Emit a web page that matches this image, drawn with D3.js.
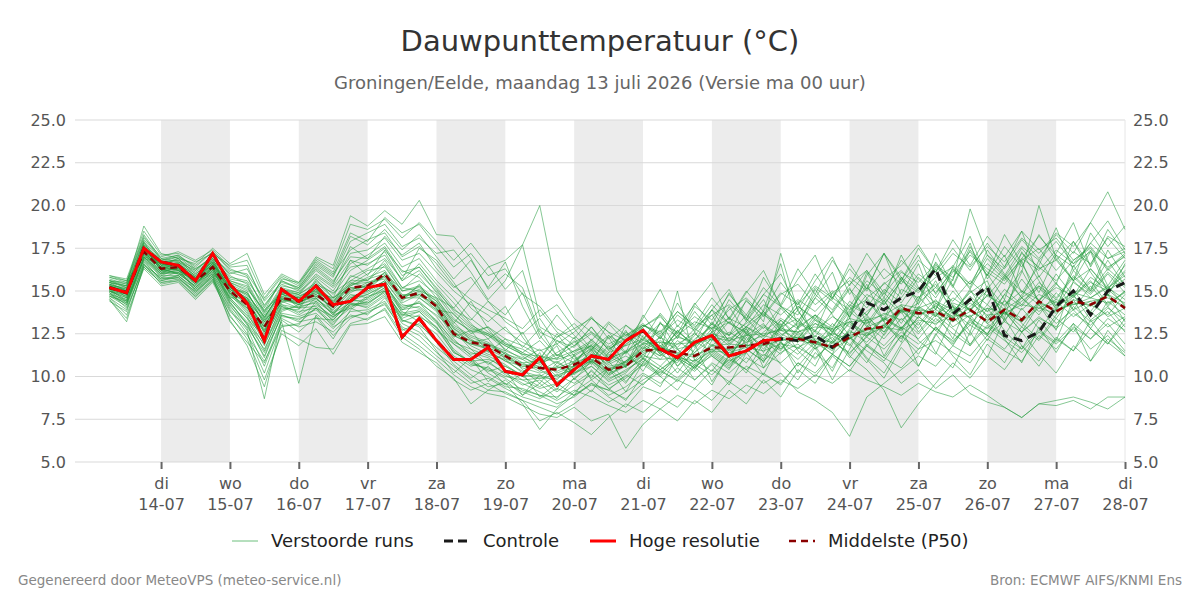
<!DOCTYPE html>
<html>
<head>
<meta charset="utf-8">
<script src="https://cdn.jsdelivr.net/npm/d3@7"></script>
<style>
  body { margin: 0; background: #fff; }
  svg { font-family: 'DejaVu Sans', sans-serif; }
</style>
</head>
<body>
<div id="chart"></div>
<script>
// tijdas: 6-uurlijkse stappen vanaf ma 13-07 06:00 UTC
const startTime = Date.UTC(2026, 6, 13, 6)
const stepHours = 6

const dayNames = ['di', 'wo', 'do', 'vr', 'za', 'zo', 'ma', 'di', 'wo', 'do', 'vr', 'za', 'zo', 'ma', 'di']
const dayDates = ['14-07', '15-07', '16-07', '17-07', '18-07', '19-07', '20-07', '21-07', '22-07', '23-07', '24-07', '25-07', '26-07', '27-07', '28-07']
const shadedDays = ['14-07', '16-07', '18-07', '20-07', '22-07', '24-07', '26-07']
const yTicks = [5, 7.5, 10, 12.5, 15, 17.5, 20, 22.5, 25]

const hires = [15.2, 14.9, 17.5, 16.7, 16.5, 15.6, 17.2, 15.4, 14.3, 12.1, 15.1, 14.4, 15.3, 14.2, 14.4, 15.2, 15.4, 12.3, 13.4, 12.1,
  11.0, 11.0, 11.7, 10.3, 10.1, 11.1, 9.5, 10.4, 11.2, 11.0, 12.1, 12.7, 11.6, 11.1, 12.0, 12.4, 11.2, 11.5, 12.1, 12.2]

const control = [15.2, 14.9, 17.5, 16.7, 16.5, 15.6, 17.2, 15.4, 14.3, 12.1, 15.1, 14.4, 15.3, 14.2, 14.4, 15.2, 15.4, 12.3, 13.4, 12.1,
  11.0, 11.0, 11.7, 10.3, 10.1, 11.1, 9.5, 10.4, 11.2, 11.0, 12.1, 12.7, 11.6, 11.1, 12.0, 12.4, 11.2, 11.5, 12.1, 12.2,
  12.1, 12.4, 11.7, 12.5, 14.3, 13.9, 14.6, 15.0, 16.3, 13.65, 14.5, 15.25, 12.4, 12.1, 12.6, 14.1, 15.0, 13.6, 15.0, 15.5]

const p50 = [15.2, 14.9, 17.3, 16.3, 16.4, 15.6, 16.4, 15.0, 14.2, 12.9, 14.6, 14.4, 14.8, 14.1, 15.2, 15.3, 16.0, 14.6, 14.9, 14.1,
  12.5, 12.0, 11.8, 11.2, 10.6, 10.5, 10.4, 10.7, 11.1, 10.4, 10.6, 11.5, 11.6, 11.4, 11.2, 11.7, 11.7, 11.8, 11.9, 12.2,
  12.2, 12.0, 11.7, 12.3, 12.8, 12.9, 14.0, 13.7, 13.8, 13.3, 13.9, 13.2, 13.9, 13.3, 14.4, 13.8, 14.4, 14.2, 14.7, 14.0]

const members = [
  [15.0,14.6,17.8,16.5,16.9,15.8,16.6,15.3,14.8,13.5,14.9,14.0,15.6,14.8,16.2,16.8,17.5,15.9,16.4,15.1,13.8,12.9,12.4,11.6,11.0,10.4,9.8,10.9,11.7,10.8,11.9,12.6,11.3,10.8,12.2,12.9,12.4,13.1,13.8,12.7,12.2,13.4,12.6,13.9,14.5,13.2,15.1,14.6,15.4,13.8,14.9,15.6,13.2,14.8,15.9,14.1,16.2,15.1,16.8,15.3],
  [15.4,15.1,17.1,16.0,16.2,15.2,16.1,14.6,13.5,11.8,14.1,13.6,14.2,13.5,14.1,14.4,15.1,13.8,13.2,12.5,11.2,10.6,10.9,10.1,9.5,9.8,9.1,9.9,10.6,9.7,10.2,11.3,11.8,10.6,11.4,12.2,11.1,12.5,11.8,12.9,13.4,12.1,11.5,12.8,13.6,12.4,13.9,12.8,14.2,12.9,13.6,12.4,14.5,13.1,12.2,13.6,14.8,13.3,14.1,12.9],
  [14.8,14.2,16.9,16.6,16.8,16.1,16.9,15.8,15.6,14.2,15.4,15.0,16.2,15.4,17.6,16.9,18.2,17.1,17.8,16.3,15.2,15.8,14.4,13.6,14.9,12.4,11.2,11.8,12.5,11.6,12.2,12.9,13.5,12.4,13.2,12.8,13.9,14.6,13.5,14.8,15.4,14.2,15.0,14.1,15.6,14.8,16.1,15.5,16.6,15.2,17.4,16.1,15.4,16.8,17.5,16.2,17.3,16.6,18.1,16.9],
  [15.6,15.3,17.6,16.2,16.1,15.4,16.3,14.9,13.9,12.4,14.3,14.7,15.0,13.8,14.6,15.0,15.6,14.2,14.0,13.2,12.1,11.4,11.1,10.4,9.8,9.3,9.6,10.2,10.8,9.9,10.3,11.1,10.4,11.2,10.7,11.6,10.9,11.4,12.2,11.5,12.8,11.6,12.3,11.1,12.4,13.0,12.2,13.5,12.7,11.9,13.2,12.5,13.8,12.6,13.4,12.9,14.1,13.2,13.8,12.6],
  [15.9,15.6,18.3,16.9,17.1,16.4,17.3,16.2,16.0,14.5,15.8,15.3,16.8,16.1,18.4,17.9,19.3,18.4,18.9,17.6,16.4,17.2,15.9,16.3,14.8,14.1,12.8,12.2,13.4,12.6,12.1,13.0,12.5,13.8,12.9,13.6,14.2,13.4,14.8,14.1,13.6,15.2,14.4,13.5,14.8,14.2,15.6,14.9,15.8,16.4,15.1,16.9,15.8,17.2,16.4,15.6,16.8,17.5,16.2,17.1],
  [14.5,13.2,16.5,15.8,15.7,15.0,15.9,14.2,12.8,10.6,13.2,9.6,13.6,12.4,13.4,13.8,14.2,12.8,12.1,11.2,10.4,9.6,9.9,9.3,8.8,8.5,8.2,9.1,9.8,8.9,9.4,10.2,9.6,10.5,9.8,10.8,10.2,11.1,10.5,11.4,11.9,11.0,12.1,11.3,12.6,11.8,12.9,12.2,13.4,12.5,11.8,12.9,12.1,11.4,12.6,11.9,12.8,11.6,12.4,11.2],
  [15.3,15.0,17.4,16.4,16.6,15.9,16.7,15.5,15.1,13.9,14.8,14.6,15.3,14.3,15.9,15.6,16.8,15.2,15.6,14.8,13.4,12.6,12.9,12.2,11.8,11.2,10.8,11.5,12.1,11.4,11.8,12.2,13.1,12.6,13.5,12.8,13.4,12.9,14.2,13.6,14.5,13.8,14.9,15.6,14.6,15.4,16.2,15.1,16.5,15.8,17.1,16.3,15.6,16.9,18.2,17.1,16.4,17.8,19.1,17.4],
  [14.9,14.4,16.8,15.6,15.9,15.1,16.0,14.4,13.0,11.2,13.6,13.3,14.0,13.1,14.2,14.1,14.8,13.4,13.8,12.9,11.6,10.8,10.4,9.9,9.2,8.9,8.4,8.8,9.6,8.8,8.2,9.4,9.0,9.8,9.3,10.4,9.7,10.6,10.1,9.6,10.8,10.2,11.3,10.6,11.8,11.1,10.5,11.6,12.1,11.4,10.8,12.2,11.5,10.9,12.4,11.6,12.9,12.2,13.1,11.9],
  [15.1,14.7,17.2,16.1,16.3,15.7,16.5,15.1,14.4,12.8,14.5,14.2,14.6,13.6,14.8,14.6,15.4,13.9,14.4,13.5,12.2,11.2,10.8,10.2,9.6,9.1,8.6,9.2,8.8,8.3,7.9,8.6,8.1,8.9,8.4,9.2,8.7,9.5,9.0,9.8,9.3,10.1,9.6,10.4,9.8,9.4,8.9,9.6,9.1,8.8,9.5,8.9,8.2,7.6,8.4,8.6,8.8,8.5,8.1,8.8],
  [15.7,15.4,18.8,17.2,16.9,16.6,17.5,16.6,17.2,14.8,16.0,15.5,17.0,16.5,19.4,18.8,19.7,18.9,20.3,18.3,18.2,16.9,15.1,16.0,15.2,12.6,12.1,11.4,12.0,11.3,10.8,11.9,11.2,12.4,11.8,12.6,13.2,12.1,13.0,12.4,13.1,12.6,11.9,13.2,12.5,13.4,12.8,13.9,13.2,14.1,13.4,12.8,13.9,14.6,13.8,14.4,13.5,14.2,13.6,14.8],
  [14.6,13.6,16.3,15.3,15.5,14.5,15.5,13.6,12.2,9.8,12.5,11.8,12.8,11.3,13.0,13.1,13.5,12.0,11.4,10.8,9.8,9.2,9.6,9.0,8.6,8.2,7.8,8.4,9.2,8.5,9.1,9.8,10.4,9.7,10.6,11.2,10.5,11.4,12.2,11.6,12.5,11.8,12.6,13.2,12.4,13.5,12.8,14.1,13.5,14.6,13.9,13.2,14.8,14.1,15.3,14.5,15.8,14.9,16.1,15.2],
  [15.2,14.8,17.6,16.6,16.2,15.5,16.9,14.8,13.7,12.0,14.0,13.9,15.4,14.9,15.6,16.2,16.4,15.0,15.2,14.4,13.0,12.4,12.0,11.3,11.0,11.6,10.6,10.1,10.9,10.3,10.9,11.7,11.2,11.9,12.5,11.8,12.6,12.0,12.9,12.3,13.2,12.7,13.5,12.9,13.8,14.6,13.7,14.3,15.2,14.4,15.6,14.7,15.9,15.0,14.2,15.4,14.6,15.8,15.1,16.2],
  [15.5,15.2,17.9,16.8,17.0,16.2,17.1,15.9,15.4,13.6,15.2,14.9,15.8,15.0,16.6,17.1,17.8,16.4,16.9,15.6,14.6,13.4,12.6,12.0,11.4,10.9,10.2,10.6,11.4,10.7,11.2,10.6,11.8,11.1,12.1,11.4,12.3,11.7,12.6,13.4,12.8,13.6,12.9,14.2,13.6,15.1,14.3,15.8,14.9,16.2,15.4,16.6,15.7,16.9,16.2,17.4,16.6,17.8,16.9,17.3],
  [14.4,13.8,16.6,15.4,15.6,14.7,15.6,13.9,12.5,10.2,13.0,13.0,14.4,13.2,14.0,13.6,14.6,13.1,12.6,11.7,10.9,10.1,9.4,9.6,9.1,8.7,9.3,8.9,9.5,9.2,8.7,9.6,10.3,9.8,10.7,10.1,11.0,10.4,11.3,10.8,11.7,11.1,12.0,11.4,12.3,11.6,12.6,11.9,12.8,12.1,13.0,12.4,13.2,12.6,13.5,12.8,13.7,13.0,14.0,13.3],
  [15.8,15.5,18.1,17.0,17.3,16.8,17.4,16.4,16.5,14.1,15.6,15.2,16.5,15.8,17.9,18.4,18.9,17.6,18.1,17.2,17.4,16.1,14.5,15.6,17.7,13.5,14.2,12.8,11.6,12.4,11.8,12.9,13.6,12.2,14.1,13.3,14.8,13.6,15.2,14.1,13.2,14.8,13.9,15.4,16.2,14.9,16.8,15.7,14.6,16.1,17.3,15.9,17.6,16.4,18.3,16.8,17.9,16.5,18.6,17.2],
  [15.0,14.5,17.0,16.1,16.0,15.3,16.2,14.7,14.0,12.6,14.4,14.5,14.9,14.4,15.3,15.8,16.2,14.8,14.7,14.3,12.8,12.2,11.5,10.9,10.3,10.0,10.6,11.2,11.8,10.4,10.9,12.0,11.5,10.2,11.6,12.8,11.2,12.4,13.1,11.6,12.9,13.6,12.1,13.4,11.8,12.9,14.2,12.6,13.8,12.2,14.6,13.1,12.4,14.0,12.8,13.9,15.1,13.6,14.8,13.2],
  [15.3,14.9,17.3,16.3,16.6,15.6,16.4,15.2,14.6,13.1,14.7,14.2,14.5,13.9,14.9,15.4,15.8,14.4,15.4,14.0,12.6,11.8,11.3,11.0,10.2,11.4,9.4,10.6,12.2,11.1,13.0,12.3,11.4,12.7,11.8,13.2,12.1,12.9,13.7,12.5,12.0,13.1,12.4,11.8,13.3,12.6,14.0,13.4,14.5,13.2,14.1,15.0,13.6,14.4,15.2,14.0,14.8,15.6,14.2,15.0],
  [15.2,15.0,17.5,16.4,16.5,15.8,16.8,15.6,15.2,13.8,15.0,14.8,15.5,14.6,15.4,16.0,16.6,15.2,15.0,14.6,14.0,15.2,16.4,16.8,17.7,20.0,15.0,13.4,12.6,11.9,12.4,13.1,12.2,13.6,12.8,14.2,13.1,12.6,13.8,12.9,14.1,13.3,12.8,14.4,13.6,14.9,13.8,15.2,14.3,13.7,15.0,14.2,15.8,14.6,15.3,14.1,15.5,14.8,16.0,14.9],
  [14.7,14.1,16.7,15.7,15.8,14.9,15.8,14.0,12.7,8.7,13.4,12.9,13.2,12.6,13.6,13.3,14.0,12.5,11.8,11.0,10.1,9.4,9.0,8.8,8.3,7.8,7.6,8.2,7.4,7.8,5.8,7.2,8.1,7.4,8.6,7.9,9.2,8.4,9.8,8.8,10.4,9.6,11.2,10.3,11.8,10.9,12.4,11.3,12.9,11.8,13.4,12.1,13.8,12.6,14.2,13.1,13.9,12.8,14.4,13.6],
  [15.4,15.1,17.7,16.5,16.7,16.0,16.7,15.4,14.9,13.4,15.1,14.8,15.9,15.2,16.4,16.6,17.1,15.6,16.2,14.9,13.6,12.8,12.5,11.8,11.3,10.8,11.4,12.0,12.6,11.6,12.3,13.0,12.4,13.3,12.7,13.9,13.1,14.4,13.6,14.9,14.2,15.3,14.6,15.8,15.0,16.3,15.4,16.8,15.9,17.2,16.4,17.6,16.7,18.1,17.2,18.4,17.6,19.0,20.8,18.6],
  [15.1,14.8,17.4,16.2,16.3,15.5,16.3,14.8,14.1,12.7,14.6,14.3,14.8,14.0,15.0,15.1,15.9,14.5,14.8,13.9,12.4,11.9,11.6,11.1,10.5,10.2,10.5,10.9,11.5,10.6,10.8,11.6,12.3,11.7,12.8,12.1,13.2,12.5,13.6,13.0,14.1,13.4,14.6,13.9,15.2,14.4,15.8,15.0,16.4,15.6,19.8,17.1,16.3,17.6,16.8,17.9,16.6,17.3,16.4,17.0],
  [15.0,14.3,16.9,16.0,16.1,15.2,16.2,14.5,13.4,11.5,13.9,14.1,14.3,13.4,14.5,14.3,15.0,13.6,13.5,12.9,11.4,10.9,10.3,10.6,10.0,9.4,10.1,9.6,10.3,9.5,10.0,10.9,10.2,11.1,10.5,11.5,10.8,11.9,11.2,12.3,11.6,12.7,12.0,13.1,12.3,13.4,12.7,13.9,13.0,14.2,13.4,14.8,13.9,16.1,20.0,16.9,15.6,14.6,15.3,14.1],
  [15.6,15.2,17.3,16.6,16.4,15.7,16.6,15.0,14.3,12.9,14.8,14.5,15.1,14.2,15.5,15.2,16.1,14.7,15.1,14.4,13.2,12.1,11.8,11.4,10.8,10.3,10.9,10.2,11.0,10.1,10.6,11.3,10.6,11.6,10.8,11.9,11.1,10.4,9.6,10.2,9.1,8.6,7.9,6.5,8.8,9.6,10.4,11.2,10.6,11.8,11.2,12.4,11.6,12.9,12.1,13.4,12.6,13.8,12.9,13.5],
  [14.9,14.0,16.4,15.5,15.6,14.6,15.6,13.8,12.9,11.4,13.5,13.4,13.7,12.8,13.8,13.9,14.4,12.9,12.4,11.4,10.6,9.8,9.2,9.1,8.6,7.4,7.9,7.3,6.6,7.6,8.4,7.9,8.8,8.2,9.3,8.6,9.7,9.0,10.2,9.5,10.8,10.0,11.3,10.6,11.9,11.1,12.4,11.6,12.9,12.0,13.3,12.5,13.8,12.9,14.3,13.4,14.7,13.8,15.1,14.2],
  [15.2,14.9,17.1,16.2,16.4,15.4,16.5,14.9,13.8,12.2,14.2,13.7,14.6,13.7,14.7,14.9,15.5,13.7,13.9,13.1,11.9,11.1,10.2,9.6,8.4,6.9,8.1,8.9,9.6,9.2,10.1,9.5,10.6,9.9,11.0,10.3,11.6,10.8,12.1,11.3,12.6,11.8,13.1,12.2,13.5,12.6,13.9,13.0,14.3,13.4,14.7,13.8,15.1,14.2,15.5,14.6,15.9,15.0,16.3,15.4],
  [15.3,15.0,17.2,16.4,16.2,15.6,16.1,15.1,14.5,12.5,14.9,14.6,14.7,14.1,15.0,15.5,15.7,14.6,15.3,14.2,12.9,12.3,11.9,11.5,11.1,10.7,11.3,10.8,11.9,11.2,10.6,11.8,11.0,12.1,11.4,12.6,11.8,12.9,12.2,13.3,12.4,11.6,12.8,11.2,10.4,9.2,7.0,8.4,9.6,10.8,9.9,11.2,10.4,11.8,10.9,12.3,11.5,12.8,11.9,13.1],
  [15.0,14.6,17.0,16.0,16.5,15.5,16.0,15.1,14.4,13.3,14.2,14.0,14.4,13.7,14.6,14.8,15.3,14.1,14.3,13.6,12.7,11.6,11.2,10.7,10.0,10.1,9.7,10.2,10.6,9.8,10.4,11.0,10.4,11.1,10.5,11.4,10.7,11.6,10.9,11.8,11.0,12.0,11.3,12.3,11.5,10.8,9.6,10.4,9.3,10.1,9.0,8.5,8.2,7.6,8.4,8.3,8.6,8.1,8.8,8.8],
  [15.5,15.3,17.8,16.7,16.8,16.3,16.9,15.7,15.5,13.7,15.3,15.1,16.3,15.5,17.2,17.4,18.1,16.8,17.2,16.1,15.0,14.2,13.6,12.7,12.0,11.5,11.9,11.0,11.6,10.8,11.4,12.2,11.5,12.6,11.9,13.1,12.4,13.6,12.8,14.1,13.2,14.6,13.7,15.1,14.0,15.5,14.6,16.0,15.2,16.5,15.4,17.1,15.9,17.5,16.3,16.8,15.6,16.3,15.2,15.9],
  [14.6,13.9,16.5,15.6,15.8,14.8,15.7,14.1,13.1,11.6,13.7,13.5,13.9,13.0,14.3,14.0,14.7,13.3,13.0,12.2,11.1,10.4,10.0,9.4,9.3,8.9,8.8,9.5,10.1,9.3,9.9,10.7,10.0,11.0,10.3,11.3,10.6,11.6,10.9,12.0,11.3,12.4,11.6,12.7,12.0,13.1,12.3,13.5,12.7,13.8,13.0,14.2,13.3,14.6,13.6,14.9,13.9,14.4,13.5,14.0],
  [15.9,15.7,18.5,17.1,17.2,16.7,17.2,16.5,16.8,14.6,15.9,15.4,16.9,16.3,18.9,18.6,19.2,18.1,19.0,17.9,16.8,17.8,16.5,15.1,16.2,12.9,12.3,12.8,13.4,12.6,11.4,13.6,12.2,14.3,12.6,13.9,15.1,13.2,14.8,16.0,13.9,15.6,17.0,14.8,16.2,14.6,17.1,15.2,13.9,16.4,18.2,15.7,17.1,14.9,16.5,18.7,16.2,17.4,15.3,16.8],
  [15.1,14.4,17.3,16.3,16.0,15.3,16.4,14.3,13.2,11.9,13.8,14.2,15.7,14.6,16.8,15.9,17.4,16.2,15.8,14.6,13.1,14.4,12.8,11.5,12.6,10.9,11.8,9.8,10.9,12.3,10.6,12.8,11.4,15.0,10.9,12.3,14.1,12.5,10.8,12.9,14.4,12.1,11.3,13.7,15.4,13.2,12.0,14.5,16.3,14.1,12.6,15.2,13.4,16.8,14.2,12.7,15.6,17.3,14.9,16.1],
  [15.4,15.0,17.6,16.5,16.6,15.9,16.5,15.3,14.7,13.2,14.9,14.7,15.2,14.5,15.8,16.3,16.9,15.7,17.5,16.8,15.5,14.0,13.2,14.1,12.3,11.0,12.5,11.2,9.9,11.4,12.7,11.0,13.2,11.6,10.4,12.1,13.5,11.8,13.9,16.6,12.8,14.6,16.1,13.4,15.9,17.2,14.8,16.6,13.9,15.7,17.8,15.1,16.4,18.5,15.8,17.2,19.0,16.4,18.2,17.6],
  [14.8,14.5,16.8,15.9,16.3,15.0,15.8,13.2,12.0,10.8,13.3,12.6,13.5,12.2,13.9,14.6,15.2,13.3,12.9,11.5,10.2,11.1,9.7,10.4,8.9,10.1,9.2,11.3,9.8,10.5,9.1,10.8,12.4,10.6,11.9,9.7,11.2,12.8,10.5,12.1,10.2,11.7,9.8,11.6,13.4,11.2,12.9,10.6,12.4,14.1,11.8,13.6,12.2,10.8,12.9,11.4,13.1,10.9,12.7,11.5],
  [15.6,15.4,18.0,16.9,16.7,16.2,17.0,16.0,16.3,14.4,15.5,15.2,16.6,15.9,18.2,17.7,18.6,17.4,18.3,17.0,15.7,16.8,15.2,16.7,14.1,12.2,13.6,12.4,11.5,13.1,12.0,13.4,15.1,12.9,14.2,15.5,13.3,14.9,16.2,14.1,15.7,17.1,14.6,16.3,15.1,17.2,15.8,14.2,16.7,15.3,17.6,15.9,18.3,16.6,14.9,17.1,15.6,18.4,16.9,17.5],
  [15.0,14.7,17.2,16.1,16.4,15.5,16.2,14.6,13.6,12.3,14.4,14.0,14.1,13.3,14.4,14.5,15.2,13.9,14.1,13.3,12.0,11.6,10.7,11.4,10.4,9.6,10.8,10.3,11.6,10.1,11.5,10.3,12.0,10.9,12.6,11.2,10.4,12.3,11.0,13.1,11.5,10.6,12.6,11.9,10.8,12.5,13.8,12.1,11.3,13.5,12.4,14.0,12.7,11.6,13.3,12.1,14.5,12.8,11.9,13.4],
  [15.3,15.2,17.5,16.6,16.9,16.0,16.8,15.6,15.3,13.4,15.1,14.9,16.0,15.3,16.8,16.5,17.3,15.6,16.6,15.4,14.3,13.1,12.2,12.9,11.7,12.8,11.2,12.1,10.8,12.4,11.3,12.7,11.5,13.0,12.0,13.9,12.4,14.5,13.2,17.2,13.8,12.6,14.9,13.5,16.1,14.2,15.6,17.1,14.8,16.3,15.2,17.4,16.0,14.6,16.8,15.4,17.9,16.1,14.7,16.6],
  [14.7,14.3,16.6,15.7,15.9,14.9,15.9,13.5,12.4,10.9,12.9,13.1,14.0,12.9,13.5,13.7,14.3,12.7,13.1,12.0,10.7,9.9,10.6,9.5,10.2,8.8,9.6,8.9,10.4,9.3,8.6,10.1,9.4,11.2,9.8,10.7,9.5,11.4,10.1,12.0,10.6,11.8,10.3,12.4,11.1,10.2,11.9,13.2,11.4,10.5,12.6,11.1,13.4,11.8,10.6,12.2,11.5,13.3,12.0,11.2],
  [15.2,14.8,17.7,16.8,16.5,15.6,16.5,15.5,15.0,13.0,14.5,14.3,15.0,14.3,15.3,15.7,16.0,15.1,16.0,15.0,13.9,13.3,14.4,13.2,12.5,13.4,11.9,12.6,13.5,12.2,13.0,12.1,13.7,12.5,14.3,13.0,14.9,13.4,12.3,14.0,12.9,15.1,13.6,12.4,14.6,13.3,15.8,14.4,17.2,15.3,13.8,16.0,14.5,17.3,15.6,13.9,16.5,15.0,17.4,15.8],
  [15.5,15.3,17.9,16.3,16.0,15.8,16.7,15.2,14.9,13.3,15.0,14.4,14.6,13.6,14.0,14.7,15.0,13.5,14.6,13.8,12.3,12.7,11.4,12.2,11.2,10.5,12.1,11.7,12.9,11.5,12.6,11.9,12.7,11.3,12.4,13.6,12.0,13.2,14.5,12.7,13.9,12.3,13.8,15.2,13.1,14.5,12.8,14.0,15.6,13.7,15.1,13.4,14.8,16.2,14.4,15.5,13.9,15.3,14.1,15.0],
  [15.8,15.6,17.0,16.7,17.0,16.5,17.3,16.3,15.9,13.8,15.7,15.5,16.7,16.0,17.4,18.0,18.4,17.0,17.6,16.6,15.3,14.5,13.9,13.4,12.8,13.9,12.6,11.8,12.9,11.7,12.5,11.6,13.1,12.3,13.8,12.6,14.5,13.3,15.8,14.2,16.3,14.8,16.8,15.3,17.2,15.7,16.5,17.7,16.1,17.5,16.2,17.8,16.4,18.0,16.9,18.3,17.2,19.0,17.6,18.8],
  [14.5,13.4,16.4,15.5,15.7,14.7,15.7,13.3,11.8,9.4,12.7,12.2,11.7,11.6,13.1,13.4,13.9,12.3,11.6,10.6,9.9,8.4,9.2,9.8,8.9,9.6,8.7,9.9,9.1,10.5,9.6,11.1,10.0,9.2,10.6,9.5,11.3,10.2,12.0,10.7,9.8,11.4,10.5,12.3,11.0,9.9,11.7,10.6,12.5,11.2,10.1,11.9,10.8,12.6,11.3,10.2,11.8,10.9,12.2,11.4],
  [15.1,14.9,17.2,16.4,16.3,15.4,16.4,14.6,14.6,12.6,14.7,14.5,15.1,14.1,15.4,15.5,15.9,14.6,14.6,13.9,13.7,12.5,12.9,11.9,11.4,12.1,11.0,12.3,10.7,11.8,10.5,12.4,11.3,12.7,11.7,13.1,11.9,12.8,11.4,13.3,12.2,13.6,12.6,14.1,12.9,14.4,13.1,14.7,13.5,15.0,13.8,15.3,14.1,15.7,14.4,16.0,14.7,16.3,15.1,16.5],
  [15.4,14.6,17.6,16.2,16.7,15.7,16.6,15.2,14.5,12.9,14.8,14.6,14.9,14.6,15.2,15.0,15.6,14.3,14.8,14.1,12.8,12.0,12.2,11.0,10.8,10.9,10.0,10.6,10.9,10.0,10.9,11.5,12.1,11.6,11.9,12.2,11.5,12.0,12.4,12.1,12.3,12.0,12.5,12.2,12.9,13.3,13.9,13.6,14.1,13.5,14.3,13.6,13.7,13.2,14.0,13.7,14.5,14.1,14.8,14.3],
  [15.0,14.8,17.4,16.5,16.5,15.6,16.4,15.0,14.2,12.7,14.5,14.4,14.7,14.0,15.1,15.3,16.1,14.6,15.0,14.2,12.6,12.1,11.9,11.3,10.7,10.6,10.3,10.8,11.2,10.5,10.7,11.4,11.7,11.4,11.1,11.8,11.9,11.8,12.0,12.3,12.1,11.9,11.8,12.4,12.7,13.0,13.8,13.9,13.7,13.2,13.8,13.3,14.0,13.4,14.3,13.9,14.2,14.4,14.6,14.1],
  [15.2,15.1,17.3,16.3,16.4,15.5,16.3,14.9,14.0,12.9,14.6,14.5,14.8,14.2,15.2,15.2,15.9,14.7,14.9,14.0,12.4,11.9,11.7,11.2,10.6,10.5,10.5,10.6,11.0,10.4,10.6,11.5,11.6,11.3,11.3,11.6,11.6,11.8,11.8,12.1,12.3,12.1,11.6,12.2,12.8,12.8,14.1,13.6,13.9,13.4,14.0,13.1,13.8,13.2,14.4,13.8,14.3,14.2,14.8,13.9],
  [15.6,15.5,18.2,16.8,17.1,16.3,17.0,16.1,15.8,14.0,15.6,15.1,16.4,15.6,17.0,16.9,17.6,16.1,16.4,15.2,14.0,13.0,12.5,11.9,11.6,11.0,12.3,13.1,12.1,13.2,12.4,13.0,12.6,13.8,13.0,14.6,13.4,15.0,13.8,15.5,14.2,16.0,14.5,16.6,15.1,17.2,15.6,17.5,16.1,18.0,16.5,18.2,17.0,18.5,17.4,18.1,16.8,17.6,16.3,17.2],
  [14.9,14.2,17.0,15.9,15.9,15.1,15.9,14.3,13.1,11.1,13.6,13.2,13.4,13.3,14.4,14.8,15.4,14.0,14.3,13.2,11.5,10.7,10.5,10.0,9.8,9.9,9.9,10.5,11.3,10.9,9.7,10.8,10.1,11.3,10.6,11.8,11.1,12.6,11.6,12.9,12.0,13.3,12.4,13.8,13.0,12.2,13.4,12.5,13.6,12.8,11.9,13.0,12.3,11.6,12.7,12.0,13.1,12.2,13.4,12.7],
  [15.3,14.9,17.5,16.4,16.2,15.6,16.6,15.1,14.6,13.2,14.6,14.2,15.1,13.7,14.3,14.2,15.0,13.2,13.6,12.7,11.9,11.3,11.5,10.9,10.6,10.8,11.1,11.5,11.8,11.0,11.5,12.1,11.8,12.3,12.0,12.5,12.2,12.9,12.4,12.8,12.6,13.1,12.7,13.4,13.1,13.7,13.3,14.0,13.6,14.3,13.9,14.7,14.2,15.0,14.5,15.2,14.7,15.5,15.0,15.7],
  [14.7,14.4,16.9,15.8,16.1,15.2,16.0,14.5,13.4,12.3,14.1,13.8,14.0,13.5,14.2,14.3,14.9,13.6,13.8,12.8,11.4,10.9,11.0,10.6,10.1,9.9,10.1,10.4,10.9,10.2,10.6,11.2,11.0,11.1,10.9,11.5,11.4,11.7,11.5,11.9,11.7,12.2,12.0,12.6,12.4,12.9,12.7,13.3,13.1,13.6,13.5,14.0,13.7,14.2,14.0,14.5,14.2,14.6,14.3,14.9],
  [15.5,15.0,17.6,16.6,16.5,15.8,16.7,15.2,14.8,13.5,14.9,14.8,15.4,14.4,15.6,15.6,16.5,15.0,15.3,14.5,13.3,12.7,12.4,11.8,11.3,11.2,11.0,11.3,11.8,11.1,11.4,11.9,12.0,11.9,12.0,12.3,12.1,12.4,12.5,12.7,12.6,12.9,12.8,13.2,13.3,13.6,14.2,14.0,14.4,13.9,14.5,13.8,14.4,13.9,14.8,14.3,14.9,14.6,15.2,14.5]
]

const W = 1200
const H = 600
const margin = { top: 120, right: 75, bottom: 138, left: 75 }
const plotW = W - margin.left - margin.right
const plotH = H - margin.top - margin.bottom

const timeAt = i => new Date(startTime + i * stepHours * 3600 * 1000)
const dayStart = s => {
  const [d, m] = s.split('-').map(Number)
  return new Date(Date.UTC(2026, m - 1, d))
}

const x = d3.scaleUtc()
  .domain([new Date(Date.UTC(2026, 6, 12, 18)), new Date(Date.UTC(2026, 6, 28))])
  .range([0, plotW])
const y = d3.scaleLinear().domain([5, 25]).range([plotH, 0])

const svg = d3.select('#chart').append('svg')
  .attr('width', W)
  .attr('height', H)

// titels
svg.append('text')
  .attr('x', W / 2).attr('y', 51)
  .attr('text-anchor', 'middle')
  .style('font-size', '29px').style('fill', '#333')
  .text('Dauwpunttemperatuur (°C)')
svg.append('text')
  .attr('x', W / 2).attr('y', 89)
  .attr('text-anchor', 'middle')
  .style('font-size', '18px').style('fill', '#666')
  .text('Groningen/Eelde, maandag 13 juli 2026 (Versie ma 00 uur)')

const g = svg.append('g')
  .attr('transform', 'translate(' + margin.left + ',' + margin.top + ')')

// grijze dagbanden
g.selectAll('rect.band')
  .data(shadedDays)
  .join('rect')
  .attr('class', 'band')
  .attr('x', d => x(dayStart(d)))
  .attr('y', 0)
  .attr('width', d => x(d3.utcDay.offset(dayStart(d), 1)) - x(dayStart(d)))
  .attr('height', plotH)
  .attr('fill', '#ececec')

// rasterlijnen
g.selectAll('line.grid')
  .data(yTicks)
  .join('line')
  .attr('class', 'grid')
  .attr('x1', 0).attr('x2', plotW)
  .attr('y1', d => y(d)).attr('y2', d => y(d))
  .attr('stroke', '#d9d9d9')
  .attr('stroke-width', 1)

g.append('line')
  .attr('x1', plotW).attr('x2', plotW)
  .attr('y1', 0).attr('y2', plotH)
  .attr('stroke', '#e6e6e6')

// y-assen links en rechts
const yLeft = g.append('g').call(d3.axisLeft(y).tickValues(yTicks).tickFormat(d3.format('.1f')).tickSize(0).tickPadding(9))
const yRight = g.append('g').attr('transform', 'translate(' + plotW + ',0)')
  .call(d3.axisRight(y).tickValues(yTicks).tickFormat(d3.format('.1f')).tickSize(0).tickPadding(8))
for (const ax of [yLeft, yRight]) {
  ax.select('.domain').remove()
  ax.selectAll('text').style('font-size', '16px').style('fill', '#555').style('font-family', 'DejaVu Sans')
}

// x-as
const xAxis = g.append('g')
  .attr('transform', 'translate(0,' + plotH + ')')
  .call(d3.axisBottom(x).tickValues(dayDates.map(dayStart)).tickSize(7).tickFormat(''))
xAxis.select('.domain').remove()
xAxis.selectAll('.tick line').attr('stroke', '#666').attr('stroke-width', 2)
xAxis.selectAll('.tick').each(function (d, i) {
  const t = d3.select(this).append('text')
    .attr('text-anchor', 'middle')
    .style('font-size', '16px').style('fill', '#555').style('font-family', 'DejaVu Sans')
  t.append('tspan').attr('x', 0).attr('y', 27).text(dayNames[i])
  t.append('tspan').attr('x', 0).attr('y', 48).text(dayDates[i])
})

const line = d3.line()
  .x((d, i) => x(timeAt(i)))
  .y(d => y(d))
  .curve(d3.curveLinear)

// verstoorde runs
g.append('g')
  .selectAll('path')
  .data(members)
  .join('path')
  .attr('d', line)
  .attr('fill', 'none')
  .attr('stroke', '#239b3c')
  .attr('stroke-opacity', 0.55)
  .attr('stroke-width', 1)

g.append('path')
  .datum(control)
  .attr('d', line)
  .attr('fill', 'none')
  .attr('stroke', '#1a1a1a')
  .attr('stroke-width', 3)
  .attr('stroke-dasharray', '9,6')

g.append('path')
  .datum(p50)
  .attr('d', line)
  .attr('fill', 'none')
  .attr('stroke', '#8b0000')
  .attr('stroke-width', 2.5)
  .attr('stroke-dasharray', '7,5')

g.append('path')
  .datum(hires)
  .attr('d', line)
  .attr('fill', 'none')
  .attr('stroke', '#ff0000')
  .attr('stroke-width', 3)

// legenda
const legendItems = [
  { label: 'Verstoorde runs', x: 232, stroke: '#6cbf7c', width: 1, dash: null },
  { label: 'Controle', x: 444, stroke: '#1a1a1a', width: 3, dash: '9,5' },
  { label: 'Hoge resolutie', x: 590, stroke: '#ff0000', width: 3, dash: null },
  { label: 'Middelste (P50)', x: 789, stroke: '#8b0000', width: 2.5, dash: '7,5' }
]
const legend = svg.append('g').attr('transform', 'translate(0,541)')
legendItems.forEach(it => {
  legend.append('line')
    .attr('x1', it.x).attr('x2', it.x + 26)
    .attr('stroke', it.stroke)
    .attr('stroke-width', it.width)
    .attr('stroke-dasharray', it.dash)
  legend.append('text')
    .attr('x', it.x + 39).attr('y', 6)
    .style('font-size', '18px').style('fill', '#222')
    .text(it.label)
})

// voetregel
svg.append('text')
  .attr('x', 18).attr('y', 585)
  .style('font-size', '13.5px').style('fill', '#888')
  .text('Gegenereerd door MeteoVPS (meteo-service.nl)')
svg.append('text')
  .attr('x', 1182).attr('y', 585)
  .attr('text-anchor', 'end')
  .style('font-size', '13.5px').style('fill', '#888')
  .text('Bron: ECMWF AIFS/KNMI Ens')
</script>
</body>
</html>
